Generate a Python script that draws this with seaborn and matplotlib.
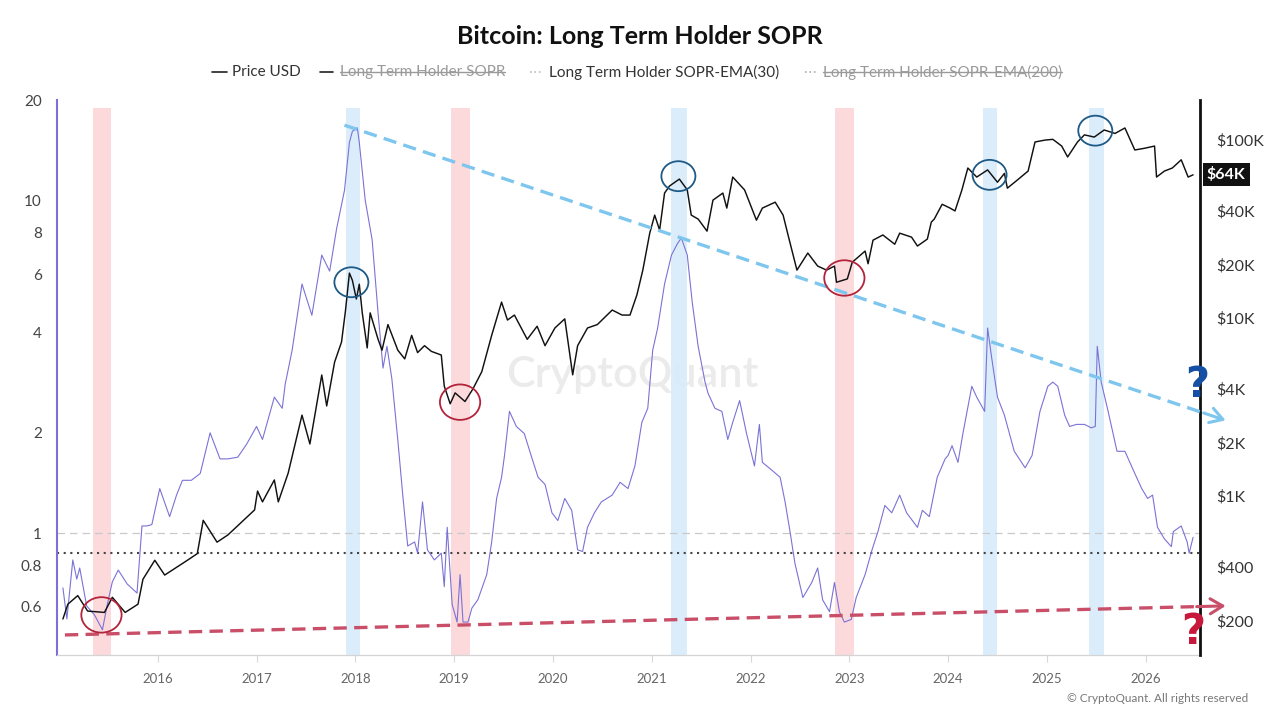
import matplotlib
matplotlib.use("Agg")
import numpy as np
import pandas as pd
import matplotlib.pyplot as plt
import seaborn as sns
from matplotlib.path import Path
from matplotlib.lines import Line2D
from matplotlib.ticker import NullLocator

# ---------------- data ----------------
price_years = [2015.04, 2015.09, 2015.19, 2015.29, 2015.46, 2015.54, 2015.67, 2015.80, 2015.85, 2015.97,
               2016.07, 2016.30, 2016.40, 2016.46, 2016.60, 2016.71, 2016.85, 2016.98, 2017.01, 2017.06,
               2017.18, 2017.22, 2017.32, 2017.46, 2017.54, 2017.66, 2017.71, 2017.79, 2017.86, 2017.90,
               2017.94, 2017.97, 2018.01, 2018.04, 2018.07, 2018.12, 2018.15, 2018.23, 2018.27, 2018.33,
               2018.43, 2018.50, 2018.57, 2018.63, 2018.70, 2018.77, 2018.87, 2018.90, 2018.96, 2019.01,
               2019.11, 2019.19, 2019.28, 2019.38, 2019.48, 2019.54, 2019.61, 2019.74, 2019.84, 2019.92,
               2020.02, 2020.12, 2020.20, 2020.25, 2020.35, 2020.45, 2020.60, 2020.70, 2020.78, 2020.85,
               2020.91, 2020.98, 2021.03, 2021.08, 2021.13, 2021.18, 2021.28, 2021.36, 2021.40, 2021.47,
               2021.56, 2021.62, 2021.72, 2021.76, 2021.82, 2021.94, 2022.06, 2022.12, 2022.25, 2022.33,
               2022.38, 2022.47, 2022.58, 2022.68, 2022.77, 2022.85, 2022.87, 2022.98, 2023.03, 2023.16,
               2023.19, 2023.24, 2023.34, 2023.46, 2023.51, 2023.63, 2023.69, 2023.79, 2023.83, 2023.86,
               2023.94, 2024.02, 2024.07, 2024.14, 2024.20, 2024.29, 2024.40, 2024.50, 2024.57, 2024.60,
               2024.70, 2024.81, 2024.88, 2024.98, 2025.06, 2025.15, 2025.21, 2025.31, 2025.38, 2025.48,
               2025.58, 2025.69, 2025.79, 2025.89, 2025.99, 2026.09, 2026.11, 2026.19, 2026.27, 2026.36,
               2026.43, 2026.48]
price_usd = [204, 247, 276, 226, 222, 270, 222, 247, 341, 436,
             360, 436, 475, 731, 551, 605, 715, 836, 1067, 928,
             1232, 928, 1346, 2850, 1963, 4790, 3210, 5660, 7330, 11000,
             17900, 16300, 12800, 15500, 10700, 6800, 10700, 7600, 6600, 9200,
             6600, 5900, 8000, 6400, 7000, 6500, 6200, 4150, 3300, 3800,
             3400, 4000, 5000, 8000, 12300, 9750, 10400, 7600, 9000, 7000,
             8800, 9900, 4800, 7000, 8800, 9200, 11100, 10400, 10400, 13500,
             18600, 30000, 37900, 31200, 50400, 55200, 60400, 52500, 37900, 36000,
             30800, 46000, 50400, 41500, 62000, 52500, 35500, 41500, 44800, 37900,
             29300, 18600, 23200, 19600, 18600, 19600, 15900, 16600, 20600, 23800,
             20200, 27400, 29300, 26000, 30000, 28500, 25400, 27800, 34600, 36000,
             43600, 41500, 40000, 52500, 69700, 62000, 68000, 58000, 65000, 53700,
             59600, 67000, 97600, 100000, 101000, 92600, 80400, 97600, 107000, 104000,
             114000, 109000, 117000, 88000, 90000, 92600, 62000, 67000, 69700, 77500,
             62000, 63800]

sopr_years = [2015.04, 2015.08, 2015.14, 2015.18, 2015.21, 2015.28, 2015.36, 2015.44, 2015.49, 2015.54,
              2015.60, 2015.69, 2015.79, 2015.84, 2015.89, 2015.94, 2016.02, 2016.12, 2016.19, 2016.25,
              2016.34, 2016.43, 2016.53, 2016.63, 2016.71, 2016.81, 2016.90, 2017.00, 2017.06, 2017.18,
              2017.26, 2017.29, 2017.36, 2017.46, 2017.56, 2017.66, 2017.74, 2017.81, 2017.89, 2017.94,
              2017.97, 2018.02, 2018.04, 2018.10, 2018.17, 2018.23, 2018.28, 2018.32, 2018.37, 2018.43,
              2018.48, 2018.53, 2018.60, 2018.63, 2018.68, 2018.73, 2018.80, 2018.87, 2018.90, 2018.93,
              2018.98, 2019.03, 2019.06, 2019.09, 2019.14, 2019.18, 2019.24, 2019.33, 2019.38, 2019.43,
              2019.48, 2019.51, 2019.56, 2019.63, 2019.71, 2019.79, 2019.85, 2019.92, 2019.99, 2020.05,
              2020.12, 2020.19, 2020.25, 2020.30, 2020.35, 2020.42, 2020.49, 2020.60, 2020.68, 2020.76,
              2020.83, 2020.90, 2020.96, 2021.01, 2021.06, 2021.13, 2021.20, 2021.26, 2021.30, 2021.36,
              2021.41, 2021.47, 2021.54, 2021.57, 2021.64, 2021.71, 2021.77, 2021.82, 2021.89, 2021.96,
              2022.04, 2022.09, 2022.12, 2022.21, 2022.30, 2022.35, 2022.40, 2022.45, 2022.53, 2022.62,
              2022.68, 2022.73, 2022.80, 2022.85, 2022.90, 2022.95, 2023.02, 2023.07, 2023.16, 2023.23,
              2023.29, 2023.36, 2023.43, 2023.51, 2023.58, 2023.69, 2023.74, 2023.81, 2023.89, 2023.97,
              2024.00, 2024.04, 2024.10, 2024.15, 2024.24, 2024.29, 2024.37, 2024.40, 2024.44, 2024.50,
              2024.57, 2024.67, 2024.78, 2024.85, 2024.93, 2025.01, 2025.06, 2025.11, 2025.18, 2025.23,
              2025.30, 2025.38, 2025.45, 2025.49, 2025.51, 2025.55, 2025.62, 2025.71, 2025.79, 2025.89,
              2025.96, 2026.02, 2026.07, 2026.12, 2026.19, 2026.26, 2026.28, 2026.36, 2026.42, 2026.44,
              2026.48]
sopr_ema30 = [0.684, 0.552, 0.83, 0.727, 0.785, 0.604, 0.567, 0.512, 0.612, 0.713,
              0.774, 0.703, 0.66, 1.05, 1.05, 1.06, 1.36, 1.12, 1.30, 1.44,
              1.44, 1.51, 2.0, 1.67, 1.67, 1.69, 1.85, 2.09, 1.91, 2.56,
              2.37, 2.80, 3.54, 5.6, 4.51, 6.84, 6.12, 8.2, 10.7, 14.9,
              16.1, 16.5, 14.9, 10.0, 7.6, 4.58, 3.13, 3.64, 2.9, 1.90,
              1.30, 0.914, 0.94, 0.87, 1.24, 0.89, 0.83, 0.87, 0.69, 1.04,
              0.61, 0.54, 0.75, 0.54, 0.54, 0.595, 0.63, 0.75, 0.94, 1.27,
              1.47, 1.71, 2.32, 2.09, 1.99, 1.67, 1.47, 1.40, 1.15, 1.09,
              1.27, 1.17, 0.89, 0.88, 1.04, 1.15, 1.24, 1.30, 1.42, 1.36,
              1.59, 2.15, 2.37, 3.54, 4.13, 5.6, 6.84, 7.4, 7.7, 6.84,
              4.94, 3.64, 2.84, 2.63, 2.37, 2.32, 1.91, 2.15, 2.5, 1.99,
              1.59, 2.12, 1.63, 1.55, 1.47, 1.24, 1.01, 0.81, 0.64, 0.71,
              0.785, 0.63, 0.58, 0.71, 0.58, 0.54, 0.55, 0.64, 0.75, 0.89,
              1.01, 1.21, 1.15, 1.30, 1.15, 1.04, 1.17, 1.12, 1.47, 1.67,
              1.71, 1.83, 1.63, 1.99, 2.76, 2.56, 2.32, 4.13, 3.38, 2.56,
              2.26, 1.76, 1.57, 1.71, 2.32, 2.76, 2.84, 2.76, 2.26, 2.09,
              2.12, 2.12, 2.07, 2.09, 3.64, 2.84, 2.32, 1.76, 1.76, 1.51,
              1.36, 1.27, 1.30, 1.04, 0.96, 0.91, 1.01, 1.05, 0.94, 0.87,
              0.97]

sopr_ticks = [0.6, 0.8, 1, 2, 4, 6, 8, 10, 20]
sopr_tick_labels = ["0.6", "0.8", "1", "2", "4", "6", "8", "10", "20"]
price_ticks = [200, 400, 1000, 2000, 4000, 10000, 20000, 40000, 100000]
price_tick_labels = ["$200", "$400", "$1K", "$2K", "$4K", "$10K", "$20K", "$40K", "$100K"]
year_ticks = list(range(2016, 2027))

red_bands = [(2015.34, 2015.53), (2018.97, 2019.16), (2022.86, 2023.05)]
blue_bands = [(2017.91, 2018.05), (2021.20, 2021.36), (2024.35, 2024.50), (2025.43, 2025.58)]

# circled spots (year, price)
red_circle_years = [2015.43, 2019.06, 2022.95]
red_circle_prices = [215, 3370, 16800]
blue_circle_years = [2017.96, 2021.27, 2024.42, 2025.49]
blue_circle_prices = [15900, 62700, 63800, 113000]

# trend lines (year, SOPR scale)
blue_trend_x = [2017.89, 2026.81]
blue_trend_y = [16.8, 2.18]
red_trend_x = [2015.06, 2026.81]
red_trend_y = [0.494, 0.604]

current_price_label = "$64K"
current_price = 64000
current_sopr = 0.87

# ---------------- figure ----------------
sns.set_theme(style="white")
plt.rcParams["font.family"] = ["Lato", "DejaVu Sans"]

W, H = 1280, 720
fig = plt.figure(figsize=(12.8, 7.2), dpi=100)
fig.patch.set_facecolor("white")
ax = fig.add_axes([57 / W, 1 - 655 / H, (1200 - 57) / W, (655 - 100) / H])
ax2 = ax.twinx()

ax.set_yscale("log")
ax2.set_yscale("log")

sopr_df = pd.DataFrame({"year": sopr_years, "sopr": sopr_ema30})
price_df = pd.DataFrame({"year": price_years, "price": price_usd})

ax.text(0.503, 0.505, "CryptoQuant", transform=ax.transAxes, ha="center", va="center",
        fontsize=31, color="#ebebeb", fontweight="semibold", zorder=0.2,
        family=["Lato", "DejaVu Sans"])

for a, b in red_bands:
    ax.axvspan(a, b, ymin=0, ymax=0.985, color="#fcd6d9", alpha=0.9, lw=0, zorder=0.5)
for a, b in blue_bands:
    ax.axvspan(a, b, ymin=0, ymax=0.985, color="#d8ecfb", alpha=0.9, lw=0, zorder=0.5)

ax.axhline(1.0, color="#c9c9c9", lw=0.9, ls=(0, (6, 4)), zorder=1)
ax.axhline(current_sopr, color="#444444", lw=1.5, ls=(0, (1, 2.2)), zorder=1)

sns.lineplot(data=sopr_df, x="year", y="sopr", ax=ax, color="#7b72d6", lw=0.8, zorder=3)
sns.lineplot(data=price_df, x="year", y="price", ax=ax2, color="#111111", lw=1.05, zorder=3)

ax.set_xlim(2014.98, 2026.55)
ax.set_ylim(0.43, 20)
ax2.set_ylim(128, 168000)

ax.set_yticks(sopr_ticks, labels=sopr_tick_labels)
ax.yaxis.set_minor_locator(NullLocator())
ax2.set_yticks(price_ticks, labels=price_tick_labels)
ax2.yaxis.set_minor_locator(NullLocator())
ax.set_xticks(year_ticks, labels=[str(y) for y in year_ticks])
ax.xaxis.set_minor_locator(NullLocator())

ax.tick_params(axis="y", length=0, pad=11, labelsize=11, labelcolor="#444444")
ax2.tick_params(axis="y", length=0, pad=12, labelsize=11.5, labelcolor="#333333")
ax.tick_params(axis="x", bottom=True, length=5, width=0.8, color="#d8d8d8", pad=8,
               labelsize=9.5, labelcolor="#666666")
for a_ in (ax, ax2):
    a_.set_xlabel("")
    a_.set_ylabel("")

ax.spines["top"].set_visible(False)
ax.spines["right"].set_visible(False)
ax.spines["left"].set_color("#7d70d8")
ax.spines["left"].set_linewidth(1.5)
ax.spines["bottom"].set_color("#d4d4d4")
ax.spines["bottom"].set_linewidth(0.9)
for s in ("top", "left", "bottom"):
    ax2.spines[s].set_visible(False)
ax2.spines["right"].set_color("#111111")
ax2.spines["right"].set_linewidth(2.0)

# trend lines with arrow heads
def trend(xs, ys, color):
    t = 0.975
    xt = xs[0] + (xs[1] - xs[0]) * t
    yt = 10 ** (np.log10(ys[0]) + (np.log10(ys[1]) - np.log10(ys[0])) * t)
    ln = Line2D([xs[0], xt], [ys[0], yt], transform=ax.transData, color=color, lw=2.4,
                ls=(0, (4, 2.2)), clip_on=False, zorder=5)
    ax2.add_line(ln)
    ax2.annotate("", xy=(xs[1], ys[1]), xytext=(xt, yt), xycoords=ax.transData,
                 textcoords=ax.transData, annotation_clip=False,
                 arrowprops=dict(arrowstyle="->,head_length=0.5,head_width=0.3", color=color,
                                 lw=2.2, mutation_scale=18, shrinkA=0, shrinkB=0), zorder=5)

trend(blue_trend_x, blue_trend_y, "#7ec6ee")
trend(red_trend_x, red_trend_y, "#c94f69")

# circles
uc = Path.unit_circle()
ellipse = Path(uc.vertices * np.array([1.0, 0.88]), uc.codes)
ax2.scatter(red_circle_years, red_circle_prices, s=29 ** 2, marker=ellipse, facecolors="none",
            edgecolors="#b3243b", linewidths=1.3, zorder=6)
ax2.scatter(blue_circle_years, blue_circle_prices, s=24.5 ** 2, marker=ellipse, facecolors="none",
            edgecolors="#1d5a86", linewidths=1.3, zorder=6)

# current price box
ax2.annotate(current_price_label, xy=(1, current_price), xycoords=ax2.get_yaxis_transform(),
             xytext=(5, 0), textcoords="offset points", ha="left", va="center",
             color="white", fontsize=11.5, fontweight="bold",
             bbox=dict(boxstyle="square,pad=0.25", fc="#111111", ec="none"),
             annotation_clip=False, zorder=7)

# question marks
fig.text(1197 / W, 1 - 385 / H, "?", ha="center", va="center", fontsize=30, fontweight="heavy",
         color="#1650a5", family=["DejaVu Sans"], zorder=10)
fig.text(1193 / W, 1 - 632 / H, "?", ha="center", va="center", fontsize=30, fontweight="heavy",
         color="#c8183c", family=["DejaVu Sans"], zorder=10)

# title
fig.text(640 / W, 1 - 37 / H, "Bitcoin: Long Term Holder SOPR", ha="center", va="center",
         fontsize=18, fontweight="bold", color="#111111")

# legend (manual)
ly = 1 - 72 / H
legend_items = [
    (212, 227, "-", "#222222", 232, "Price USD", "#333333", False),
    (320, 333, "-", "#222222", 340, "Long Term Holder SOPR", "#9a9a9a", True),
    (530, 542, ":", "#bbbbbb", 549, "Long Term Holder SOPR-EMA(30)", "#333333", False),
    (805, 816, ":", "#aaaaaa", 823, "Long Term Holder SOPR-EMA(200)", "#9a9a9a", True),
]
legend_texts = []
for x0, x1, ls, lc, tx, label, tc, strike in legend_items:
    fig.add_artist(Line2D([x0 / W, x1 / W], [ly, ly], transform=fig.transFigure,
                          color=lc, lw=1.2, ls=ls))
    t = fig.text(tx / W, ly, label, ha="left", va="center", fontsize=11, color=tc)
    legend_texts.append((t, strike, tc))

# footer
fig.text(1248 / W, 1 - 698 / H, "\u00a9 CryptoQuant. All rights reserved", ha="right",
         va="center", fontsize=8.5, color="#777777")

fig.canvas.draw()
renderer = fig.canvas.get_renderer()
for t, strike, tc in legend_texts:
    if strike:
        bb = t.get_window_extent(renderer)
        ym = (bb.y0 + bb.height * 0.5) / fig.bbox.height
        fig.add_artist(Line2D([bb.x0 / fig.bbox.width, bb.x1 / fig.bbox.width], [ym, ym],
                              transform=fig.transFigure, color=tc, lw=1.0))

fig.savefig("out.png", dpi=100, facecolor="white")
